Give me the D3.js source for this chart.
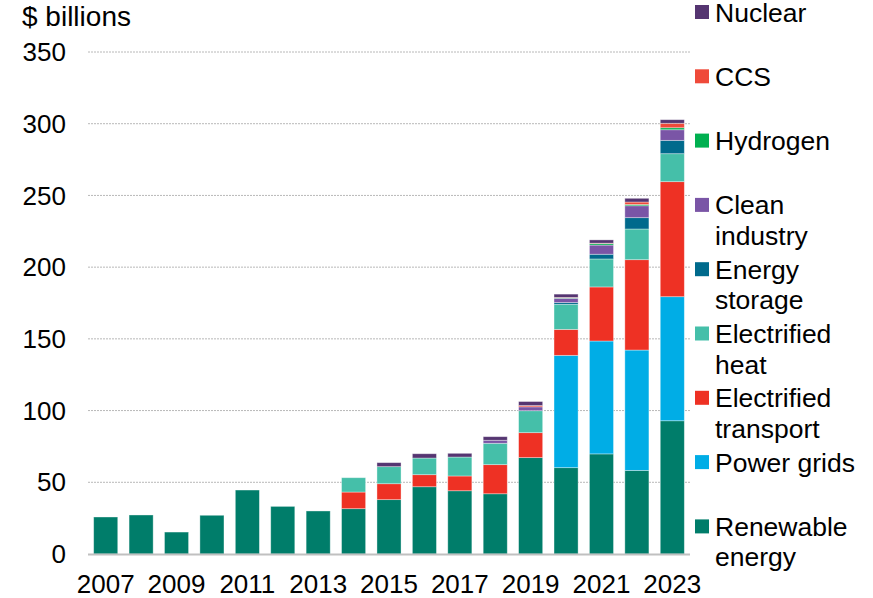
<!DOCTYPE html>
<html>
<head>
<meta charset="utf-8">
<script src="https://cdn.jsdelivr.net/npm/d3@7/dist/d3.min.js"></script>
<style>
  html, body { margin: 0; padding: 0; background: #fff; }
  svg { display: block; font-family: "Liberation Sans", Arial, sans-serif; }
</style>
</head>
<body>
<svg id="chart" width="873" height="598"></svg>
<script>
const years = [2007,2008,2009,2010,2011,2012,2013,2014,2015,2016,2017,2018,2019,2020,2021,2022,2023];
const renewable   = [25.8,27.2,15.3,27.0,44.6,33.2,30.0,31.6,37.9,46.9,44.1,42.0,67.2,60.2,69.8,58.3,92.9];
const powerGrids  = [0,0,0,0,0,0,0,0,0,0,0,0,0,78.3,78.7,83.9,86.5];
const transport   = [0,0,0,0,0,0,0,11.6,11.1,8.4,10.3,20.3,17.4,18.1,37.7,63.0,80.2];
const heat        = [0,0,0,0,0,0,0,10.0,11.9,11.6,13.2,14.9,15.3,17.5,19.5,21.4,19.5];
const storage     = [0,0,0,0,0,0,0,0,0,0,0,0,0,1.2,3.3,7.9,9.3];
const cleanInd    = [0,0,0,0,0,0,0,0,0,0,0,2.1,2.7,3.0,6.4,8.3,7.4];
const hydrogen    = [0,0,0,0,0,0,0,0,0,0,0,0,0,0.3,1.0,0.9,1.4];
const ccs         = [0,0,0,0,0,0,0,0,0,0,0,0,0.9,0.3,0.3,1.7,3.1];
const nuclear     = [0,0,0,0,0,0,0,0,2.8,3.0,2.6,2.5,2.8,2.3,2.3,2.6,2.5];

const seriesKeys   = ["renewable","powerGrids","transport","heat","storage","cleanInd","hydrogen","ccs","nuclear"];
const seriesValues = [renewable,powerGrids,transport,heat,storage,cleanInd,hydrogen,ccs,nuclear];
const seriesLabels = [["Renewable","energy"],["Power grids"],["Electrified","transport"],["Electrified","heat"],["Energy","storage"],["Clean","industry"],["Hydrogen"],["CCS"],["Nuclear"]];
const seriesColors = ["#007d6a","#00ade6","#ee3124","#45bfa9","#006a8c","#7a55a6","#00b050","#ef4a3a","#553571"];
const yTicks = [0,50,100,150,200,250,300,350];
const xTickLabels = years.filter((yr,i) => i % 2 === 0);

const rows = years.map((yr, i) => {
  const r = { year: yr };
  seriesKeys.forEach((k, j) => r[k] = seriesValues[j][i]);
  return r;
});

const svg = d3.select("#chart");
const plotLeft = 88, plotRight = 690, plotTop = 52, plotBottom = 554;

const x = d3.scaleBand().domain(years).range([plotLeft, plotRight]).paddingInner(0.32).paddingOuter(0.16);
const y = d3.scaleLinear().domain([0, 350]).range([plotBottom, plotTop]);

// gridlines
svg.append("g").selectAll("line").data(yTicks.filter(t => t > 0)).join("line")
  .attr("x1", plotLeft).attr("x2", plotRight)
  .attr("y1", d => y(d)).attr("y2", d => y(d))
  .attr("stroke", "#b8b8b8").attr("stroke-width", 1).attr("stroke-dasharray", "2,1");

// y axis labels
const yAxis = d3.axisLeft(y).tickValues(yTicks).tickSize(0).tickPadding(0);
const gy = svg.append("g").attr("transform", `translate(66,0)`).call(yAxis);
gy.select(".domain").remove();
gy.selectAll("text").attr("font-size", 26).attr("fill", "#000")
  .attr("font-family", "Liberation Sans, Arial, sans-serif").attr("dy", "0.33em");

// stacked bars
const stack = d3.stack().keys(seriesKeys);
const stacked = stack(rows);
svg.append("g").selectAll("g").data(stacked).join("g")
  .attr("fill", (d, i) => seriesColors[i])
  .selectAll("rect").data(d => d.filter(p => p[1] - p[0] > 0)).join("rect")
  .attr("x", d => x(d.data.year))
  .attr("width", x.bandwidth())
  .attr("y", d => y(d[1]))
  .attr("height", d => y(d[0]) - y(d[1]))
  .attr("stroke", "rgba(255,255,255,0.45)").attr("stroke-width", 0.8);

// baseline
svg.append("line").attr("x1", plotLeft).attr("x2", plotRight)
  .attr("y1", y(0) + 0.5).attr("y2", y(0) + 0.5)
  .attr("stroke", "#c0c0c0").attr("stroke-width", 2);

// x axis labels
const xAxis = d3.axisBottom(x).tickValues(xTickLabels).tickSize(0).tickPadding(0);
const gx = svg.append("g").attr("transform", `translate(0,${plotBottom + 21})`).call(xAxis);
gx.select(".domain").remove();
gx.selectAll("text").attr("font-size", 26).attr("fill", "#000")
  .attr("font-family", "Liberation Sans, Arial, sans-serif").attr("dy", "0.71em");

// unit label
svg.append("text").attr("x", 22).attr("y", 26).attr("font-size", 28).attr("fill", "#000")
  .text("$ billions");

// legend (top = nuclear)
const legendOrder = d3.range(seriesKeys.length).reverse();
const lg = svg.append("g");
legendOrder.forEach((si, k) => {
  const cy = 12 + k * 64.3;
  lg.append("rect").attr("x", 695).attr("y", cy - 7).attr("width", 14).attr("height", 14)
    .attr("fill", seriesColors[si]);
  const t = lg.append("text").attr("x", 715).attr("y", cy + 9.5).attr("font-size", 26.5).attr("fill", "#000");
  seriesLabels[si].forEach((line, li) => {
    t.append("tspan").attr("x", 715).attr("dy", li === 0 ? 0 : 30.5).text(line);
  });
});
</script>
</body>
</html>
